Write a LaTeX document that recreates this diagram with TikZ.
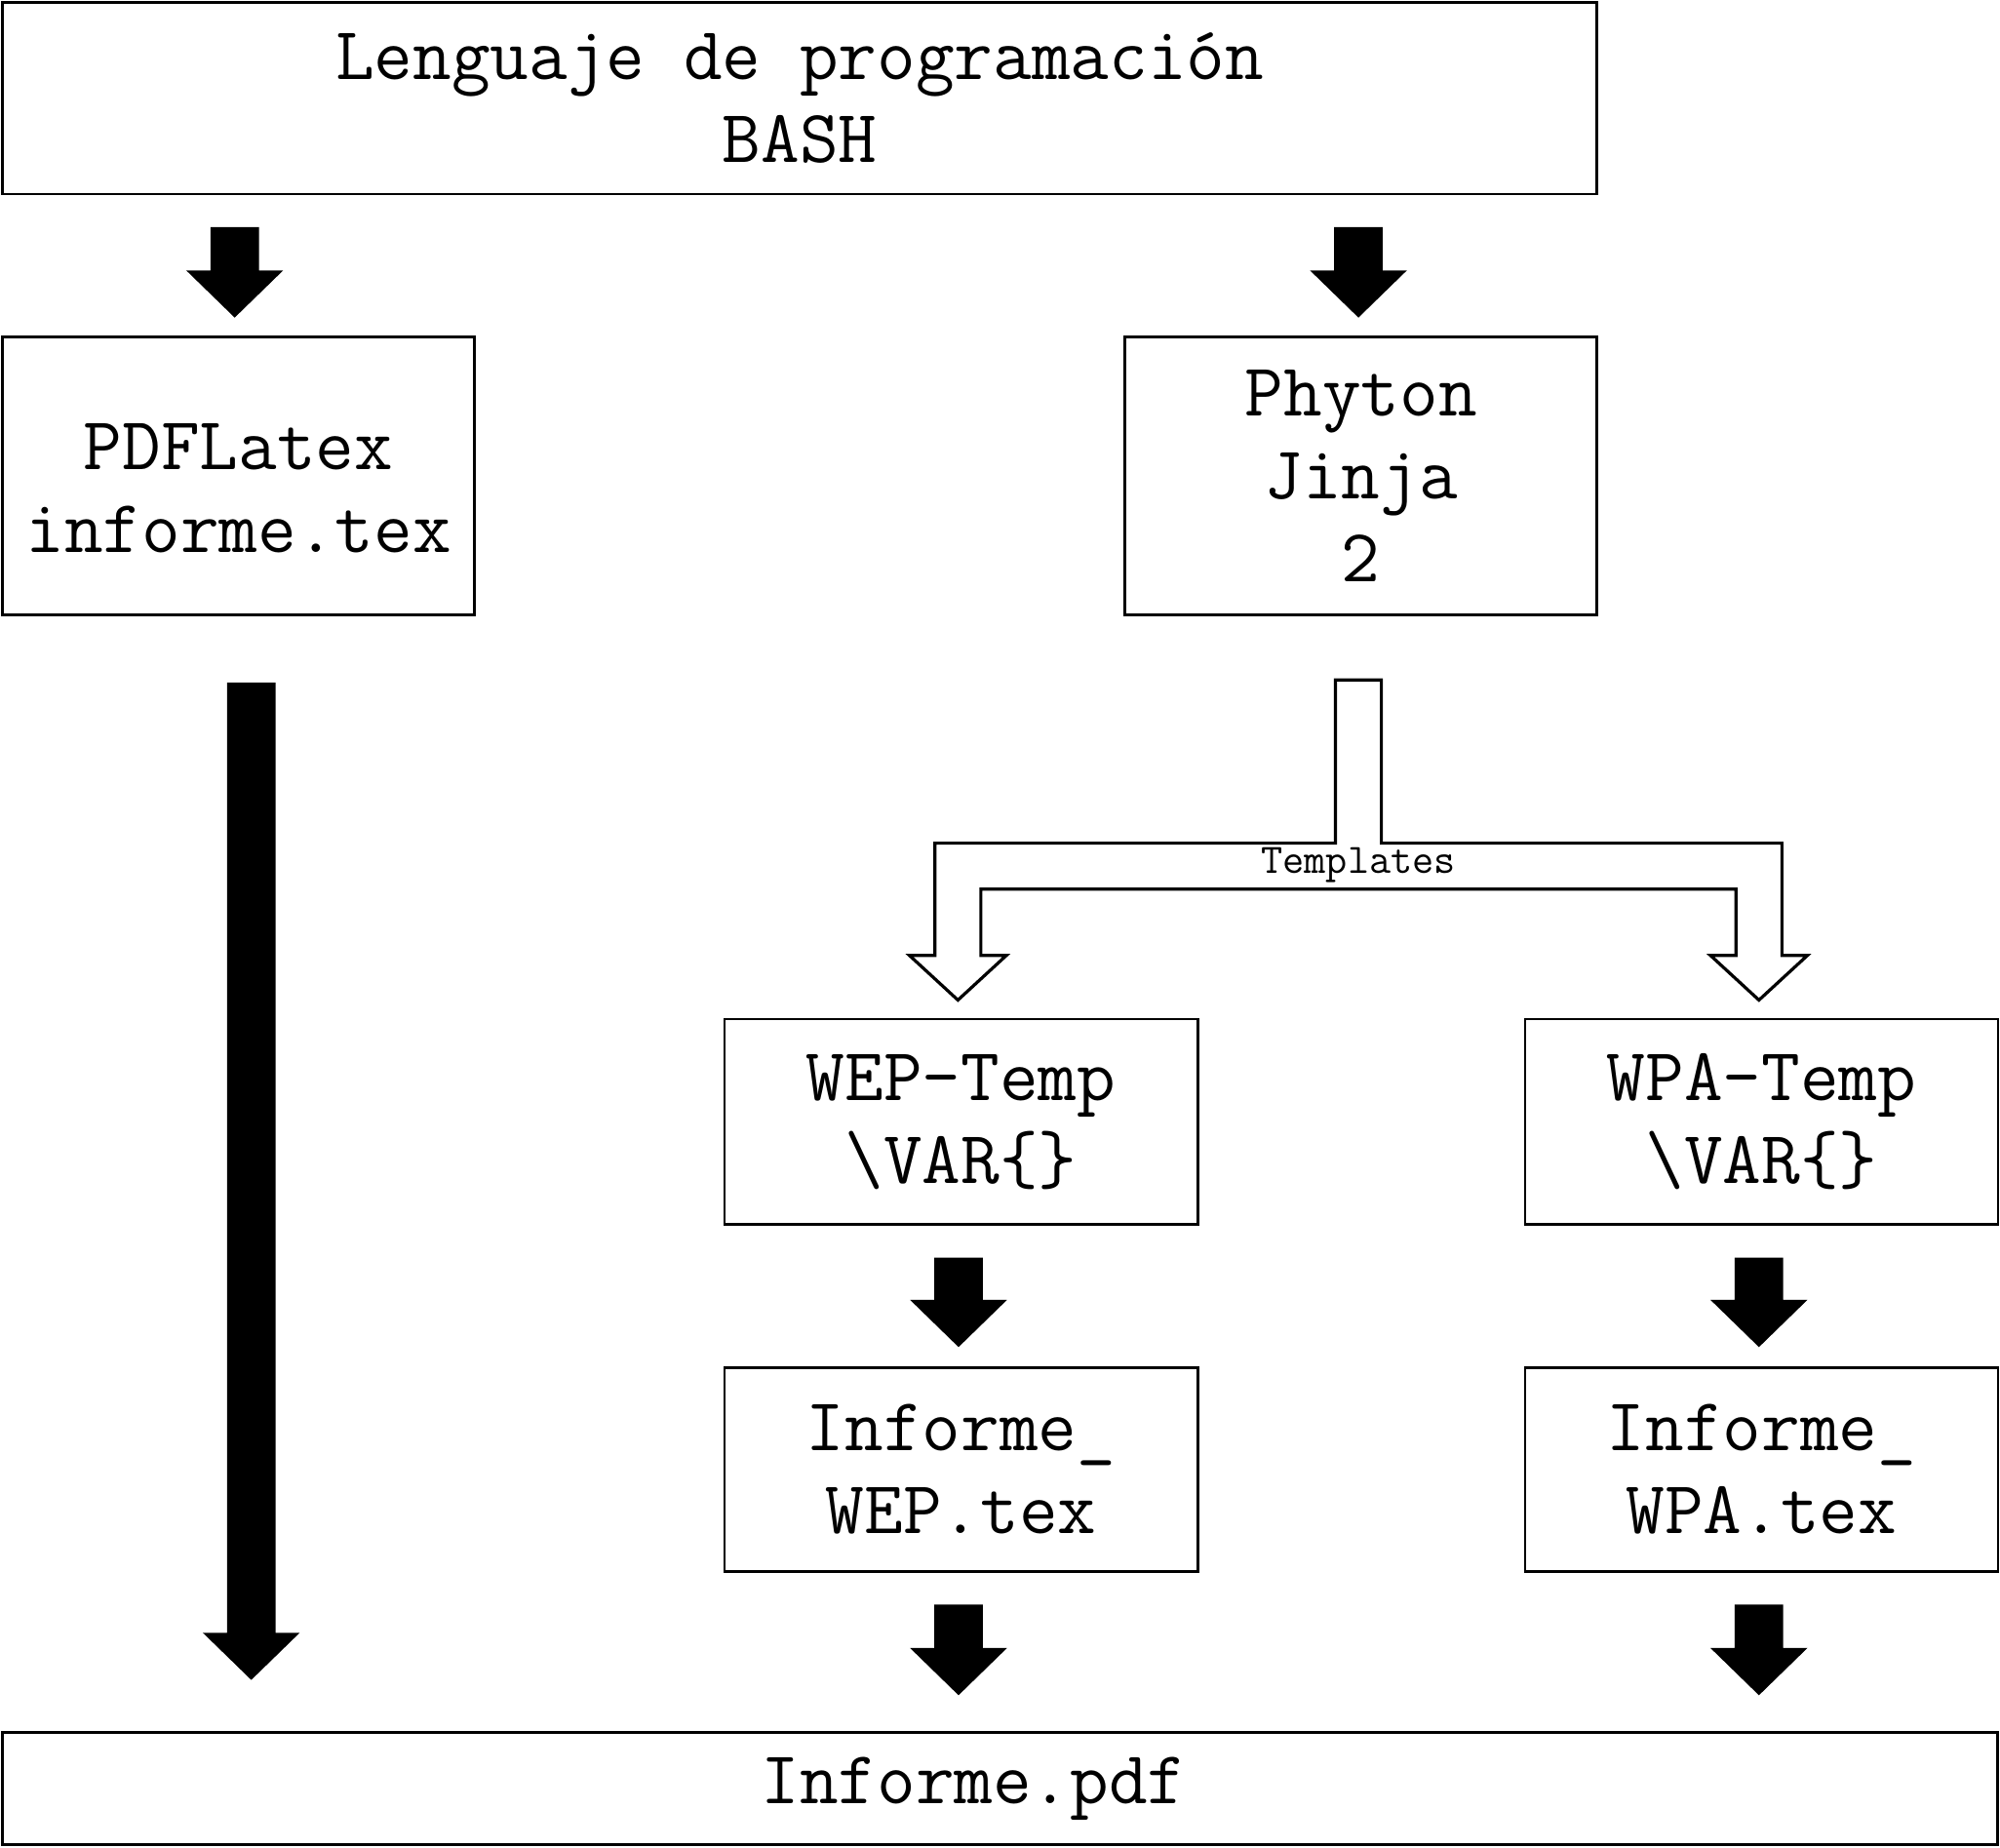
\documentclass[tikz,border=0pt]{standalone}
\usetikzlibrary{calc}
\newlength\uu \setlength\uu{0.654pt}
\newcommand\bigfont{\ttfamily\fontsize{38.5}{42.5}\selectfont}
\newcommand\smallfont{\ttfamily\fontsize{21.5}{23}\selectfont}
\tikzset{
  box/.style={draw, line width=1.3pt, inner sep=0pt, align=center, font=\bigfont},
  hollow/.style={draw, line width=1.6pt, fill=white, line join=miter},
}
\newcommand\blockarrow[2]{%
  \fill let \p1=(#1), \p2=(#2) in
  (\x1-19\uu,\y1) -- (\x1+19\uu,\y1) -- (\x1+19\uu,\y2+37\uu) -- (\x1+38\uu,\y2+37\uu)
  -- (\x1,\y2) -- (\x1-38\uu,\y2+37\uu) -- (\x1-19\uu,\y2+37\uu) -- cycle;}
\begin{document}
\begin{tikzpicture}[x=0.654pt,y=-0.654pt]
\useasboundingbox (0,0) rectangle (1568,1448);
% boxes
\node[box, minimum width=817.5pt, minimum height=98.1pt] (top) at (627,77) {Lenguaje de programación\\BASH};
\node[box, minimum width=242pt, minimum height=142.6pt] (pdf) at (187,373) {\rule{0pt}{36pt}PDFLatex\\informe.tex};
\node[box, minimum width=242pt, minimum height=142.6pt] (phy) at (1067,373) {Phyton\\Jinja\\2};
\node[box, minimum width=242.6pt, minimum height=105.3pt] (wep) at (753.5,879.5) {WEP-Temp\\\textbackslash VAR\{\}};
\node[box, minimum width=242.6pt, minimum height=105.3pt] (wpa) at (1381,879.5) {WPA-Temp\\\textbackslash VAR\{\}};
\node[box, minimum width=242.6pt, minimum height=104.6pt] (iwep) at (753.5,1152) {Informe\_\\WEP.tex};
\node[box, minimum width=242.6pt, minimum height=104.6pt] (iwpa) at (1381,1152) {Informe\_\\WPA.tex};
\node[box, minimum width=1022.9pt, minimum height=57.6pt] (out) at (784,1402) {\hspace*{-27pt}Informe.pdf};
% arrow end points
\coordinate (a1s) at ($(pdf.north |- top.south)+(-3,25)$);
\coordinate (a1e) at ($(pdf.north)+(-3,-14)$);
\coordinate (a2s) at ($(phy.north |- top.south)+(-2,25)$);
\coordinate (a2e) at ($(phy.north)+(-2,-14)$);
\coordinate (a3s) at ($(pdf.south)+(10,52)$);
\coordinate (a3e) at ($(out.north -| pdf.south)+(10,-40)$);
\coordinate (a4s) at ($(wep.south)+(-2,25)$);
\coordinate (a4e) at ($(iwep.north)+(-2,-15)$);
\coordinate (a5s) at ($(wpa.south)+(-2,25)$);
\coordinate (a5e) at ($(iwpa.north)+(-2,-15)$);
\coordinate (a6s) at ($(iwep.south)+(-2,25)$);
\coordinate (a6e) at ($(out.north -| iwep.south)+(-2,-28)$);
\coordinate (a7s) at ($(iwpa.south)+(-2,25)$);
\coordinate (a7e) at ($(out.north -| iwpa.south)+(-2,-28)$);
\blockarrow{a1s}{a1e}
\blockarrow{a2s}{a2e}
\blockarrow{a3s}{a3e}
\blockarrow{a4s}{a4e}
\blockarrow{a5s}{a5e}
\blockarrow{a6s}{a6e}
\blockarrow{a7s}{a7e}
% hollow branching arrow
\coordinate (hs) at ($(phy.south)+(-2,50)$);
\coordinate (hl) at ($(wep.north)+(-2.5,-14)$);
\coordinate (hr) at ($(wpa.north)+(-2,-14)$);
\draw[hollow] let \p1=(hs), \p2=(hl), \p3=(hr) in
  (\x1-18\uu,\y1) -- (\x1+18\uu,\y1) -- (\x1+18\uu,\y1-128\uu) -- (\x3+18\uu,\y1-128\uu)
  -- (\x3+18\uu,\y3+35\uu) -- (\x3+38\uu,\y3+35\uu) -- (\x3,\y3) -- (\x3-38\uu,\y3+35\uu)
  -- (\x3-18\uu,\y3+35\uu) -- (\x3-18\uu,\y1-164\uu) -- (\x2+18\uu,\y1-164\uu)
  -- (\x2+18\uu,\y2+35\uu) -- (\x2+38\uu,\y2+35\uu) -- (\x2,\y2) -- (\x2-38\uu,\y2+35\uu)
  -- (\x2-18\uu,\y2+35\uu) -- (\x2-18\uu,\y1-128\uu) -- (\x1-18\uu,\y1-128\uu) -- cycle;
\node[font=\smallfont, inner sep=0pt] (templ) at ($(hs)+(0,145)$) {Templates};
\end{tikzpicture}
\end{document}
